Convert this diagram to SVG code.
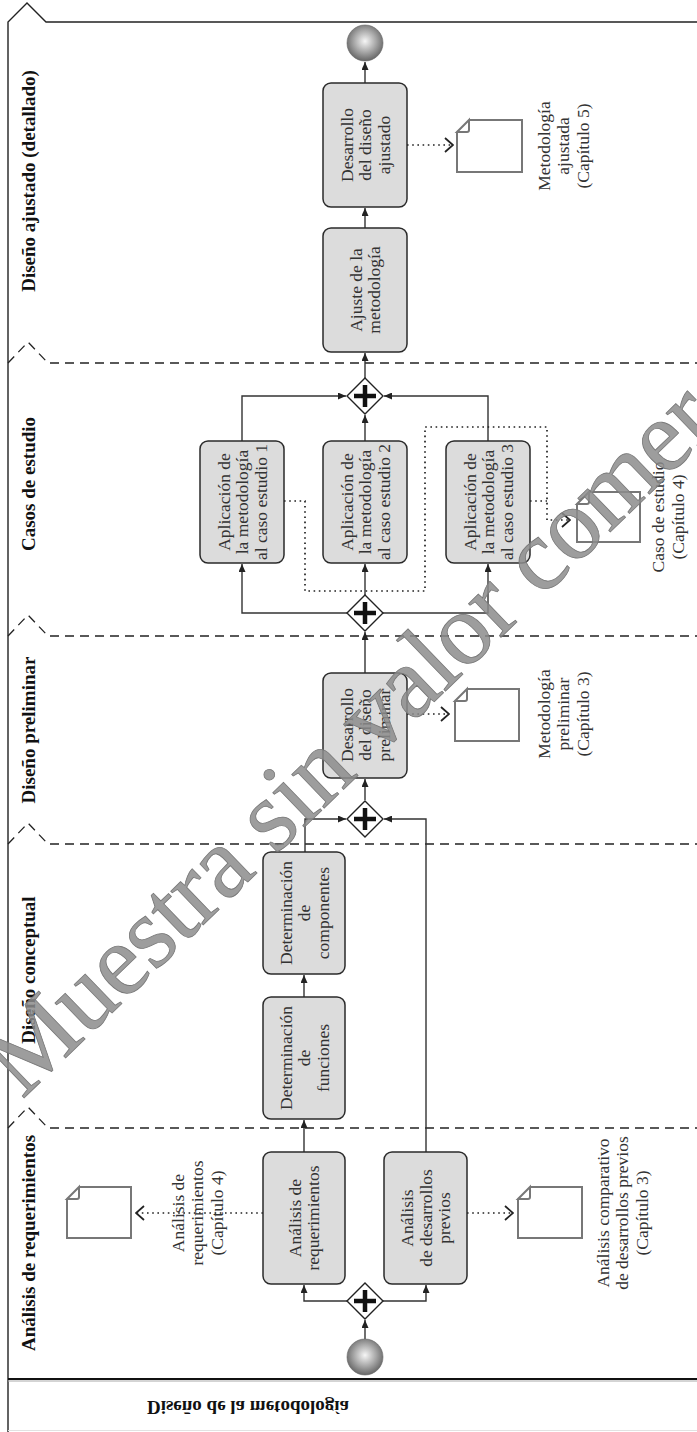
<svg xmlns="http://www.w3.org/2000/svg" width="697" height="1432" viewBox="0 0 697 1432">
  <defs>
    <style>
      .frame { fill: none; stroke: #222; stroke-width: 1.4; }
      .lane { fill: none; stroke: #222; stroke-width: 1.3; stroke-dasharray: 9 6; }
      .title { font-family: "Liberation Serif", serif; font-weight: bold; font-size: 19px; fill: #111; }
      .box { fill: #dcdcdc; stroke: #2a2a2a; stroke-width: 1.5; }
      .lbl { font-family: "Liberation Serif", serif; font-size: 17.5px; fill: #333; text-anchor: middle; }
      .flow { fill: none; stroke: #333; stroke-width: 1.4; marker-end: url(#arrow); }
      .assoc { fill: none; stroke: #222; stroke-width: 1.7; stroke-dasharray: 1.6 3.6; }
      .doc { fill: #fff; stroke: #777; stroke-width: 2; }
      .gw { fill: #fff; stroke: #222; stroke-width: 1.4; }
      .plus { stroke: #111; stroke-width: 4.5; }
      .ev { fill: url(#sphere); stroke: #666; stroke-width: 0.6; }
      .wm { font-family: "Liberation Serif", serif; font-size: 102px; letter-spacing: -1px; fill: #8c8c8c; fill-opacity: 0.85; stroke: #777; stroke-width: 0.8; }
    </style>
    <radialGradient id="sphere" cx="50%" cy="45%" r="55%">
      <stop offset="0" stop-color="#f6f6f6"/>
      <stop offset="0.55" stop-color="#a8a8a8"/>
      <stop offset="1" stop-color="#666"/>
    </radialGradient>
    <marker id="arrow" viewBox="0 0 8 7" refX="8" refY="3.5" markerWidth="8" markerHeight="7" markerUnits="userSpaceOnUse" orient="auto">
      <path d="M0,0 L8,3.5 L0,7 Z" fill="#222"/>
    </marker>
    <marker id="chev" viewBox="0 0 10 16" refX="9" refY="8" markerWidth="10" markerHeight="16" markerUnits="userSpaceOnUse" orient="auto">
      <path d="M1,1 L9,8 L1,15" fill="none" stroke="#222" stroke-width="1.8"/>
    </marker>
    <symbol id="plusGw" viewBox="-19 -19 38 38" overflow="visible">
      <path class="gw" d="M0,-18 L18,0 L0,18 L-18,0 Z"/>
      <path class="plus" d="M-11,0 H11 M0,-11 V11"/>
    </symbol>
  </defs>

  <rect width="697" height="1432" fill="#fff"/>

  <!-- pool frame and lanes -->
  <g id="pool">
    <path class="frame" d="M8,1432 V22 L27,3 L46,22 H697"/>
    <line x1="8" y1="1379" x2="697" y2="1379" stroke="#111" stroke-width="2"/>
    <line x1="8" y1="1381" x2="697" y2="1381" stroke="#aaa" stroke-width="1"/>
    <line x1="8" y1="1430.5" x2="697" y2="1430.5" stroke="#e2e2e2" stroke-width="1"/>
    <path class="lane" d="M8,363 L28,342 L48,363 H697"/>
    <path class="lane" d="M8,636 L28,615 L48,636 H697"/>
    <path class="lane" d="M8,844 L28,823 L48,844 H697"/>
    <path class="lane" d="M8,1128 L28,1107 L48,1128 H697"/>
    <text class="title" text-anchor="middle" transform="translate(35,181) rotate(-90)">Diseño ajustado (detallado)</text>
    <text class="title" text-anchor="middle" transform="translate(35,484) rotate(-90)">Casos de estudio</text>
    <text class="title" text-anchor="middle" transform="translate(35,730) rotate(-90)">Diseño preliminar</text>
    <text class="title" text-anchor="middle" transform="translate(35,970) rotate(-90)">Diseño conceptual</text>
    <text class="title" text-anchor="middle" transform="translate(35,1243) rotate(-90)">Análisis de requerimientos</text>
    <text class="title" text-anchor="middle" font-size="18" dominant-baseline="central" transform="translate(248,1407) scale(1,-1)">Diseño de la metodología</text>
  </g>

  <!-- connectors -->
  <g id="connectors">
    <path class="flow" d="M365,1339 V1320"/>
    <path class="flow" d="M347,1301 H304 V1285"/>
    <path class="flow" d="M383,1301 H426 V1285"/>
    <path class="flow" d="M304,1152 V1120"/>
    <path class="flow" d="M304,997 V975"/>
    <path class="flow" d="M305,852 V819 H346"/>
    <path class="flow" d="M426,1152 V819 H384"/>
    <path class="flow" d="M365,800 V779"/>
    <path class="flow" d="M365,673 V632"/>
    <path class="flow" d="M347,613 H242 V564"/>
    <path class="flow" d="M383,613 H488 V564"/>
    <path class="flow" d="M365,595 V564"/>
    <path class="flow" d="M242,441 V396 H346"/>
    <path class="flow" d="M365,441 V415"/>
    <path class="flow" d="M488,441 V396 H384"/>
    <path class="flow" d="M365,378 V353"/>
    <path class="flow" d="M365,228 V208"/>
    <path class="flow" d="M365,83 V62"/>

    <path class="assoc" d="M263,1213 H136" marker-end="url(#chev)"/>
    <path class="assoc" d="M467,1213 H513" marker-end="url(#chev)"/>
    <path class="assoc" d="M407,714 H449" marker-end="url(#chev)"/>
    <path class="assoc" d="M407,145 H453" marker-end="url(#chev)"/>
    <path class="assoc" d="M284,501 H305 V591 H425 V427 H547 V520 H570" marker-end="url(#chev)"/>
    <path class="assoc" d="M530,501 H547"/>
  </g>

  <!-- events -->
  <g id="start">
    <circle class="ev" cx="365" cy="1357" r="18"/>
  </g>
  <g id="end">
    <circle class="ev" cx="365" cy="43" r="18"/>
  </g>

  <!-- gateways -->
  <g id="gw-split-1"><use href="#plusGw" x="346" y="1282" width="38" height="38"/></g>
  <g id="gw-join-1"><use href="#plusGw" x="346" y="800" width="38" height="38"/></g>
  <g id="gw-split-2"><use href="#plusGw" x="346" y="594" width="38" height="38"/></g>
  <g id="gw-join-2"><use href="#plusGw" x="346" y="377" width="38" height="38"/></g>

  <!-- tasks -->
  <g id="task-requerimientos">
    <rect class="box" x="263" y="1152" width="82" height="132" rx="8"/>
    <text class="lbl" transform="translate(304,1218) rotate(-90)"><tspan x="0" y="-3.25">Análisis de</tspan><tspan x="0" y="15.25">requerimientos</tspan></text>
  </g>
  <g id="task-desarrollos">
    <rect class="box" x="384" y="1152" width="83" height="132" rx="8"/>
    <text class="lbl" transform="translate(425.5,1218) rotate(-90)"><tspan x="0" y="-12.5">Análisis</tspan><tspan x="0" y="6">de desarrollos</tspan><tspan x="0" y="24.5">previos</tspan></text>
  </g>
  <g id="task-funciones">
    <rect class="box" x="263" y="997" width="82" height="122" rx="8"/>
    <text class="lbl" transform="translate(304,1058) rotate(-90)"><tspan x="0" y="-12.5">Determinación</tspan><tspan x="0" y="6">de</tspan><tspan x="0" y="24.5">funciones</tspan></text>
  </g>
  <g id="task-componentes">
    <rect class="box" x="263" y="852" width="82" height="122" rx="8"/>
    <text class="lbl" transform="translate(304,913) rotate(-90)"><tspan x="0" y="-12.5">Determinación</tspan><tspan x="0" y="6">de</tspan><tspan x="0" y="24.5">componentes</tspan></text>
  </g>
  <g id="task-preliminar">
    <rect class="box" x="323" y="673" width="84" height="105" rx="8"/>
    <text class="lbl" transform="translate(365,725) rotate(-90)"><tspan x="0" y="-12.5">Desarrollo</tspan><tspan x="0" y="6">del diseño</tspan><tspan x="0" y="24.5">preliminar</tspan></text>
  </g>
  <g id="task-caso-1">
    <rect class="box" x="200" y="441" width="84" height="122" rx="8"/>
    <text class="lbl" transform="translate(242,502) rotate(-90)"><tspan x="0" y="-12.5">Aplicación de</tspan><tspan x="0" y="6">la metodología</tspan><tspan x="0" y="24.5">al caso estudio 1</tspan></text>
  </g>
  <g id="task-caso-2">
    <rect class="box" x="323" y="441" width="84" height="122" rx="8"/>
    <text class="lbl" transform="translate(365,502) rotate(-90)"><tspan x="0" y="-12.5">Aplicación de</tspan><tspan x="0" y="6">la metodología</tspan><tspan x="0" y="24.5">al caso estudio 2</tspan></text>
  </g>
  <g id="task-caso-3">
    <rect class="box" x="446" y="441" width="84" height="122" rx="8"/>
    <text class="lbl" transform="translate(488,502) rotate(-90)"><tspan x="0" y="-12.5">Aplicación de</tspan><tspan x="0" y="6">la metodología</tspan><tspan x="0" y="24.5">al caso estudio 3</tspan></text>
  </g>
  <g id="task-ajuste">
    <rect class="box" x="323" y="228" width="84" height="124" rx="8"/>
    <text class="lbl" transform="translate(365,290) rotate(-90)"><tspan x="0" y="-3.25">Ajuste de la</tspan><tspan x="0" y="15.25">metodología</tspan></text>
  </g>
  <g id="task-ajustado">
    <rect class="box" x="323" y="83" width="84" height="124" rx="8"/>
    <text class="lbl" transform="translate(365,145) rotate(-90)"><tspan x="0" y="-12.5">Desarrollo</tspan><tspan x="0" y="6">del diseño</tspan><tspan x="0" y="24.5">ajustado</tspan></text>
  </g>

  <!-- data objects -->
  <g id="doc-requerimientos">
    <path class="doc" d="M79,1187 H131 V1238 H67 V1199 Z M67,1199 L79,1187 V1197 Q79,1199 77,1199 Z"/>
    <text class="lbl" transform="translate(197,1213) rotate(-90)"><tspan x="0" y="-13.5">Análisis de</tspan><tspan x="0" y="6">requerimientos</tspan><tspan x="0" y="25.5">(Capítulo 4)</tspan></text>
  </g>
  <g id="doc-desarrollos">
    <path class="doc" d="M530,1187 H582 V1238 H518 V1199 Z M518,1199 L530,1187 V1197 Q530,1199 528,1199 Z"/>
    <text class="lbl" transform="translate(622,1213) rotate(-90)"><tspan x="0" y="-13.5">Análisis comparativo</tspan><tspan x="0" y="6">de desarrollos previos</tspan><tspan x="0" y="25.5">(Capítulo 3)</tspan></text>
  </g>
  <g id="doc-preliminar">
    <path class="doc" d="M467,689 H519 V741 H455 V701 Z M455,701 L467,689 V699 Q467,701 465,701 Z"/>
    <text class="lbl" transform="translate(563,714) rotate(-90)"><tspan x="0" y="-13.5">Metodología</tspan><tspan x="0" y="6">preliminar</tspan><tspan x="0" y="25.5">(Capítulo 3)</tspan></text>
  </g>
  <g id="doc-caso">
    <path class="doc" d="M589,492 H640 V542 H577 V504 Z M577,504 L589,492 V502 Q589,504 587,504 Z"/>
    <text class="lbl" transform="translate(668,517) rotate(-90)"><tspan x="0" y="-3.75">Caso de estudio</tspan><tspan x="0" y="15.75">(Capítulo 4)</tspan></text>
  </g>
  <g id="doc-ajustada">
    <path class="doc" d="M469,120 H522 V172 H457 V132 Z M457,132 L469,120 V130 Q469,132 467,132 Z"/>
    <text class="lbl" transform="translate(563,146) rotate(-90)"><tspan x="0" y="-13.5">Metodología</tspan><tspan x="0" y="6">ajustada</tspan><tspan x="0" y="25.5">(Capítulo 5)</tspan></text>
  </g>

  <!-- overprinted sample stamp -->
  <g id="stamp">
    <text class="wm" transform="translate(22,1100) rotate(-44)">Muestra sin valor comercial</text>
  </g>
</svg>
